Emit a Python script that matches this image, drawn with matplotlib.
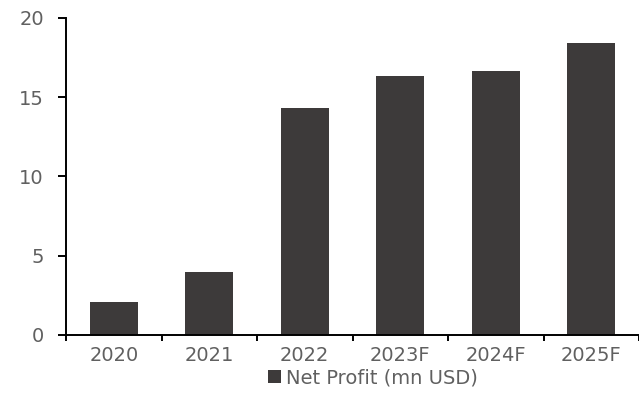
import matplotlib.pyplot as plt
import numpy as np

years = ["2020", "2021", "2022", "2023F", "2024F", "2025F"]
net_profit = [2.08, 3.97, 14.32, 16.34, 16.66, 18.42]

plt.rcParams['font.family'] = ['DejaVu Sans']
grey = "#606060"
bar_color = "#3d3a3a"

fig = plt.figure(figsize=(6.39, 4.08), dpi=100)
ax = fig.add_axes([0.1033, 0.179, 0.8967, 0.777])

x = np.arange(len(years))
ax.bar(x, net_profit, width=0.5, color=bar_color, label="Net Profit (mn USD)")

ax.set_xlim(-0.5, len(years) - 0.5)
ax.set_ylim(0, 20)
ax.set_yticks([0, 5, 10, 15, 20])
ax.set_xticks(x)
ax.set_xticklabels(years)
ax.set_xticks(np.arange(-0.5, len(years), 1), minor=True)

for side in ["top", "right"]:
    ax.spines[side].set_visible(False)
for side in ["left", "bottom"]:
    ax.spines[side].set_linewidth(1.4)
    ax.spines[side].set_color("black")

ax.tick_params(axis="x", which="major", length=0, pad=8, labelsize=14, labelcolor=grey)
ax.tick_params(axis="x", which="minor", length=4.5, width=1.4, direction="out")
ax.tick_params(axis="y", length=6, width=1.4, pad=10, labelsize=14, labelcolor=grey)

fig.legend(loc="center", bbox_to_anchor=(0.584, 0.073), frameon=False,
           fontsize=14, labelcolor=grey, handlelength=0.65, handleheight=0.65,
           handletextpad=0.3)

fig.savefig("out.png", dpi=100)
